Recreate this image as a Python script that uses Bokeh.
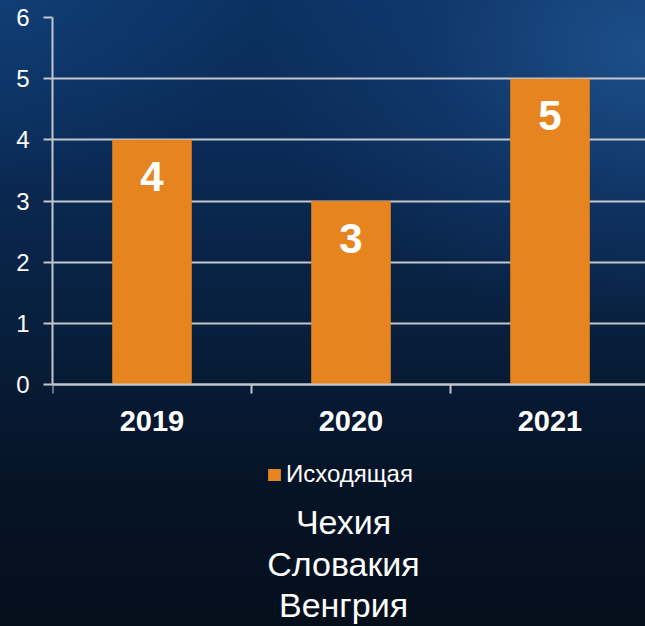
from bokeh.plotting import figure
from bokeh.models import (ColumnDataSource, FixedTicker, Legend, LegendItem, Label,
                          Range1d, LinearAxis)
from bokeh.embed import file_html
from bokeh.resources import INLINE
from bokeh.core.properties import value

# ---- data ----
categories = ["2019", "2020", "2021"]
values = [4, 3, 5]
series_name = "Исходящая"
countries = ["Чехия", "Словакия", "Венгрия"]
y_ticks = [0, 1, 2, 3, 4, 5, 6]

FONT = "Liberation Sans"
ORANGE = "#E6851F"
GRID = "#c3c6cc"

W, H = 645, 626
LEFT, TOP = 52, 17
PX_PER_UNIT = 367 / 6.0
CAT_W = 199.0
frame_h = H - TOP
frame_w = W - LEFT

pos = [i + 0.5 for i in range(len(categories))]
src = ColumnDataSource(dict(x=pos, top=values, label=[str(v) for v in values]))

p = figure(width=W, height=H, output_backend="svg", toolbar_location=None,
           x_range=Range1d(0, frame_w / CAT_W),
           y_range=Range1d(6 - frame_h / PX_PER_UNIT, 6),
           min_border_left=LEFT, min_border_right=0, min_border_top=TOP,
           min_border_bottom=0, x_axis_location=None)
p.styles = {
    "background": (
        "radial-gradient(ellipse 75% 55% at 100% 8%, rgba(32,84,146,0.85) 0%, "
        "rgba(22,64,120,0.45) 45%, rgba(0,0,0,0) 80%), "
        "radial-gradient(ellipse 40% 30% at 0% 0%, rgba(20,70,130,0.6) 0%, rgba(0,0,0,0) 100%), "
        "linear-gradient(to bottom, #0b3161 0%, #0a2a55 25%, #08203f 50%, #061428 75%, #050f1c 100%)"
    )
}
p.background_fill_alpha = 0
p.border_fill_alpha = 0
p.outline_line_color = None

bars = p.vbar(x="x", top="top", width=0.4, source=src, fill_color=ORANGE,
              line_color=None)

p.text(x="x", y="top", text="label", source=src, text_align="center",
       text_baseline="middle", y_offset=37, text_color="white",
       text_font=value(FONT), text_font_style="bold", text_font_size="42px")

# grid
p.xgrid.grid_line_color = None
p.ygrid.ticker = FixedTicker(ticks=y_ticks)
p.ygrid.grid_line_color = GRID
p.ygrid.grid_line_width = 2

# y axis
ya = p.yaxis[0]
ya.ticker = FixedTicker(ticks=y_ticks)
ya.bounds = (0, 6)
ya.axis_line_color = GRID
ya.axis_line_width = 2
ya.major_tick_line_color = GRID
ya.major_tick_line_width = 2
ya.major_tick_out = 9
ya.major_tick_in = 0
ya.minor_tick_line_color = None
ya.major_label_text_color = "white"
ya.major_label_text_font = FONT
ya.major_label_text_font_size = "24px"
ya.major_label_standoff = 14

# x axis, fixed at y = 0 inside the frame
xa = LinearAxis(fixed_location=0)
xa.ticker = FixedTicker(ticks=pos, minor_ticks=list(range(len(categories) + 1)))
xa.major_label_overrides = {pp: c for pp, c in zip(pos, categories)}
xa.axis_line_color = GRID
xa.axis_line_width = 2
xa.major_tick_line_color = None
xa.major_tick_out = 0
xa.major_tick_in = 0
xa.minor_tick_line_color = GRID
xa.minor_tick_line_width = 2
xa.minor_tick_out = 9
xa.minor_tick_in = 0
xa.major_label_text_color = "white"
xa.major_label_text_font = FONT
xa.major_label_text_font_style = "bold"
xa.major_label_text_font_size = "29px"
xa.major_label_standoff = 17
p.add_layout(xa, "below")

# legend (below the chart)
legend = Legend(items=[LegendItem(label=series_name, renderers=[bars])],
                location=(214, 138), orientation="horizontal",
                background_fill_alpha=0, border_line_color=None,
                padding=0, margin=0, glyph_width=16, glyph_height=15,
                label_standoff=4, label_text_color="white",
                label_text_font=FONT, label_text_font_size="24px")
p.add_layout(legend, "center")

# country lines (screen offsets from frame bottom-left)
y_lines = [105, 63, 22]
for name, yy in zip(countries, y_lines):
    p.add_layout(Label(x=291, y=yy, x_units="screen", y_units="screen",
                       text=name, text_align="center", text_baseline="middle",
                       text_color="white", text_font=FONT,
                       text_font_size="34px"))

open("out.html", "w").write(file_html(p, INLINE))
